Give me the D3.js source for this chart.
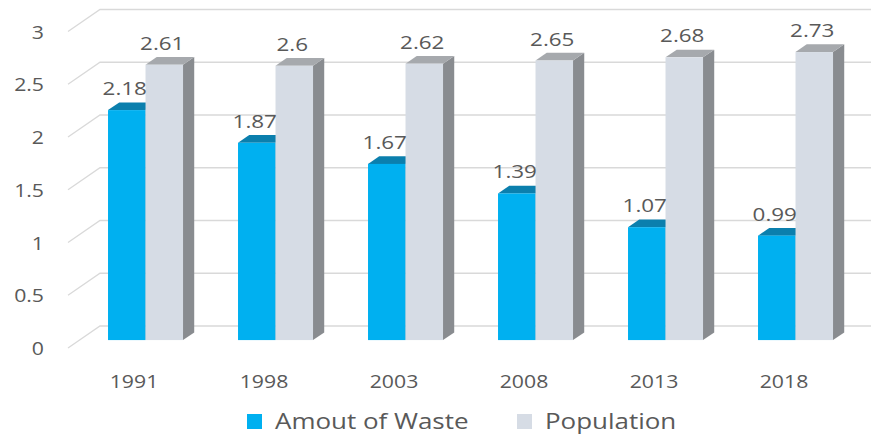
<!DOCTYPE html>
<html>
<head>
<meta charset="utf-8">
<script src="https://cdn.jsdelivr.net/npm/d3@7"></script>
<style>
  body { margin: 0; background: #fff; }
  text { font-family: "Open Sans", "Noto Sans", sans-serif; fill: #595959; }
</style>
</head>
<body>
<svg id="chart" width="871" height="436"></svg>
<script>
const years = ["1991", "1998", "2003", "2008", "2013", "2018"];
const waste = [2.18, 1.87, 1.67, 1.39, 1.07, 0.99];
const population = [2.61, 2.6, 2.62, 2.65, 2.68, 2.73];
const seriesNames = ["Amout of Waste", "Population"];
const yTicks = [0, 0.5, 1, 1.5, 2, 2.5, 3];

const colors = {
  "Amout of Waste": { front: "#00b0f0", top: "#0b7fad", side: "#0a6e96" },
  "Population": { front: "#d6dce5", top: "#a6a9ad", side: "#898c90" }
};

const svg = d3.select("#chart");

// oblique depth: z = 0 front floor edge, z = 1 back wall
const DX = 32, DY = 22;
const z0 = 0.36, z1 = 0.71;
const SX = 1.18; // text is a little stretched horizontally in the picture

var x0 = d3.scaleBand().domain(years).range([69, 849]),
  x1 = d3.scaleBand().domain(seriesNames).range([27.5, 102.5]),
  y = d3.scaleLinear().domain([0, 3]).range([348, 348 - 316.5]);

function P(px, v, z) {
  return [px + z * DX, y(v) - z * DY];
}
function poly(pts) {
  return "M" + pts.map((p) => p.join(",")).join("L") + "Z";
}
function stext(g, x, yy, str, size, anchor) {
  return g.append("text")
    .attr("transform", "translate(" + x + "," + yy + ") scale(" + SX + ",1)")
    .attr("text-anchor", anchor)
    .style("font-size", size + "px")
    .text(str);
}

// gridlines: diagonal on the floor side + horizontal on the back wall
const grid = svg.append("g");
yTicks.forEach(function (t) {
  const a = P(68, t, 0), b = P(68, t, 1);
  grid.append("path")
    .attr("d", "M" + a + "L" + b + "L" + 900 + "," + b[1])
    .attr("fill", "none")
    .attr("stroke", "#d9d9d9")
    .attr("stroke-width", 1.3);
  stext(svg, 44, y(t) + 7, String(t), 18, "end");
});

// bars
const data = years.map((yr, i) => ({ year: yr, vals: [
  { name: seriesNames[0], v: waste[i] },
  { name: seriesNames[1], v: population[i] }
]}));

const barG = svg.append("g");
data.forEach(function (d) {
  d.vals.forEach(function (s) {
    const xl = x0(d.year) + x1(s.name), xr = xl + x1.bandwidth();
    const c = colors[s.name];
    const g = barG.append("g");
    // side
    g.append("path")
      .attr("d", poly([P(xr, 0, z0), P(xr, 0, z1), P(xr, s.v, z1), P(xr, s.v, z0)]))
      .attr("fill", c.side);
    // top
    g.append("path")
      .attr("d", poly([P(xl, s.v, z0), P(xl, s.v, z1), P(xr, s.v, z1), P(xr, s.v, z0)]))
      .attr("fill", c.top);
    // front
    const f0 = P(xl, s.v, z0), f1 = P(xr, 0, z0);
    g.append("rect")
      .attr("x", f0[0])
      .attr("y", f0[1])
      .attr("width", f1[0] - f0[0])
      .attr("height", f1[1] - f0[1])
      .attr("fill", c.front)
      .append("title")
      .text(s.name + ": " + s.v);
  });
});

// value labels
data.forEach(function (d) {
  d.vals.forEach(function (s) {
    const xl = x0(d.year) + x1(s.name);
    const p = P(xl + x1.bandwidth() / 2 - 2, s.v, z0);
    stext(svg, p[0], p[1] - 15, String(s.v), 19, "middle");
  });
});

// category labels
years.forEach(function (yr) {
  stext(svg, x0(yr) + x0.bandwidth() / 2, 388, yr, 18, "middle");
});

// legend
const legend = [{ name: seriesNames[0], x: 247 }, { name: seriesNames[1], x: 517 }];
legend.forEach(function (l) {
  svg.append("rect")
    .attr("x", l.x).attr("y", 414)
    .attr("width", 15).attr("height", 15)
    .attr("fill", colors[l.name].front);
  stext(svg, l.x + 28, 429, l.name, 22, "start");
});
</script>
</body>
</html>
